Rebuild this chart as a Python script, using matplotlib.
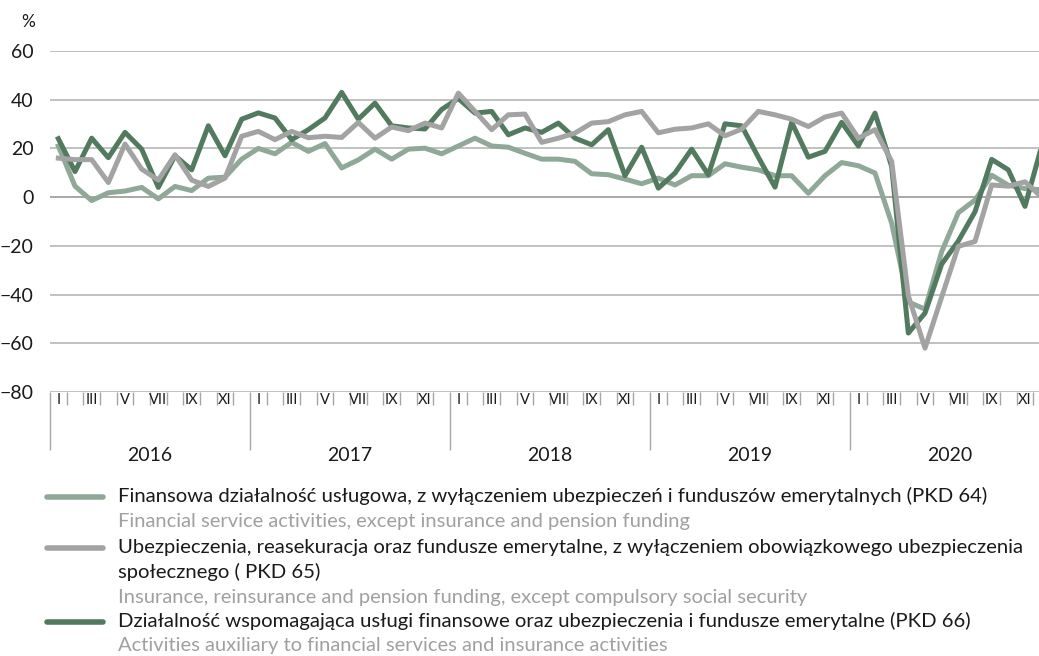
import numpy as np
import matplotlib.pyplot as plt
from matplotlib.lines import Line2D

# dane miesięczne 2016-2020, %
years = ['2016', '2017', '2018', '2019', '2020']
months = ['I', 'II', 'III', 'IV', 'V', 'VI', 'VII', 'VIII', 'IX', 'X', 'XI', 'XII']

pkd64 = [21, 4.5, -1.4, 1.8, 2.5, 4, -0.7, 4.4, 2.7, 7.8, 8.2, 15.6,
         20, 17.8, 22.5, 18.8, 22, 12, 15.3, 19.7, 15.6, 19.7, 20.1, 17.8,
         21, 24.2, 21, 20.5, 18, 15.6, 15.6, 14.7, 9.6, 9.2, 7.4, 5.5,
         7.8, 5, 8.8, 8.8, 13.7, 12.3, 11.2, 8.8, 8.8, 1.6, 8.8, 14.2,
         12.9, 9.9, -10.7, -43, -46, -22.4, -6.4, -1.2, 9, 4.9, 3.5, 3]
pkd65 = [16, 15.4, 15.4, 6, 21.8, 11.5, 7, 17.4, 7, 4.4, 7.8, 25,
         27, 23.6, 27, 24.4, 25, 24.5, 30.7, 24.2, 28.8, 27.3, 30.4, 28.4,
         42.7, 35.2, 27.7, 33.8, 34.1, 22.5, 24.2, 26.3, 30.4, 31, 33.8, 35.2,
         26.4, 27.9, 28.4, 30.1, 25.2, 27.9, 35.2, 33.8, 32, 29, 32.9, 34.5,
         24.2, 27.7, 14.7, -40.5, -62, -41, -20.2, -18.2, 5, 4.5, 6.3, 0]
pkd66 = [24, 10.5, 24.2, 16.2, 26.6, 19.7, 4, 17, 11.2, 29.3, 17, 32,
         34.6, 32.5, 23.6, 27.7, 32.5, 43, 32, 38.6, 29.3, 28.4, 28, 36,
         40.5, 34.5, 35.2, 25.6, 28.4, 26.6, 30.4, 24.2, 21.5, 27.7, 8.8, 20.5,
         3.7, 9.9, 19.7, 9.2, 30.1, 29.3, 16.4, 4.1, 30.7, 16.4, 18.8, 30.7,
         21, 34.5, 12.6, -55.8, -47.6, -27.5, -18, -6, 15.5, 11.2, -3.8, 21]

labels_pl = [['Finansowa działalność usługowa, z wyłączeniem ubezpieczeń i funduszów emerytalnych (PKD 64)'],
             ['Ubezpieczenia, reasekuracja oraz fundusze emerytalne, z wyłączeniem obowiązkowego ubezpieczenia',
              'społecznego ( PKD 65)'],
             ['Działalność wspomagająca usługi finansowe oraz ubezpieczenia i fundusze emerytalne (PKD 66)']]
labels_en = ['Financial service activities, except insurance and pension funding',
             'Insurance, reinsurance and pension funding, except compulsory social security',
             'Activities auxiliary to financial services and insurance activities']

c64 = '#8fa898'
c65 = '#a3a3a3'
c66 = '#527a5e'

plt.rcParams['font.family'] = ['Lato', 'DejaVu Sans']

W, H = 1039, 656
fig = plt.figure(figsize=(W / 100, H / 100), dpi=100)
ax = fig.add_axes([50 / W, 1 - 392 / H, 1000 / W, 341 / H])

x = np.arange(len(pkd64))
ax.plot(x, pkd64, color=c64, lw=3.6, zorder=3)
ax.plot(x, pkd66, color=c66, lw=3.6, zorder=4)
ax.plot(x, pkd65, color=c65, lw=3.6, zorder=5)

ax.set_xlim(-0.5, 59.5)
ax.set_ylim(-80, 60)
ax.set_yticks(range(-80, 61, 20))
ax.grid(axis='y', color='#b0b0b0', lw=1.1, zorder=0)
ax.axhline(0, color='#808080', lw=1.2, zorder=1)
for s in ax.spines.values():
    s.set_visible(False)
ax.tick_params(axis='y', length=0, pad=12, labelsize=14, labelcolor='#1a1a1a')

# podziałka osi X: lata (długie) i miesiące (krótkie)
ax.set_xticks(np.arange(0, 60, 12) - 0.5)
ax.set_xticks(np.arange(60) - 0.5, minor=True)
ax.set_xticklabels([])
ax.tick_params(axis='x', which='major', length=42, width=1, color='#a6a6a6')
ax.tick_params(axis='x', which='minor', length=9.5, width=1, color='#a6a6a6')

tr = ax.get_xaxis_transform()
for i in range(60):
    if i % 2 == 0:
        ax.text(i, -0.024, months[i % 12], transform=tr, ha='center', va='center',
                fontsize=10.5, color='#1a1a1a', clip_on=False)
for k, yr in enumerate(years):
    ax.text(12 * k + 5.5, -0.185, yr, transform=tr, ha='center', va='center',
            fontsize=14, color='#1a1a1a')

fig.text(28 / W, 1 - 22 / H, '%', ha='center', va='center', fontsize=12.5, color='#1a1a1a')

# legenda
def fy(p):
    return 1 - p / H

handle_y = [497, 548, 622]
en_y = [521, 598, 646]
for c, hy, ey, lp, le in zip([c64, c65, c66], handle_y, en_y, labels_pl, labels_en):
    fig.add_artist(Line2D([47 / W, 103 / W], [fy(hy), fy(hy)], color=c, lw=4, solid_capstyle='round'))
    for j, line in enumerate(lp):
        fig.text(118 / W, fy(hy - 1 + 25 * j), line, ha='left', va='center',
                 fontsize=14.6, color='#1a1a1a')
    fig.text(118 / W, fy(ey), le, ha='left', va='center', fontsize=14.5, color='#a0a0a0')

fig.savefig('out.png', dpi=100)
